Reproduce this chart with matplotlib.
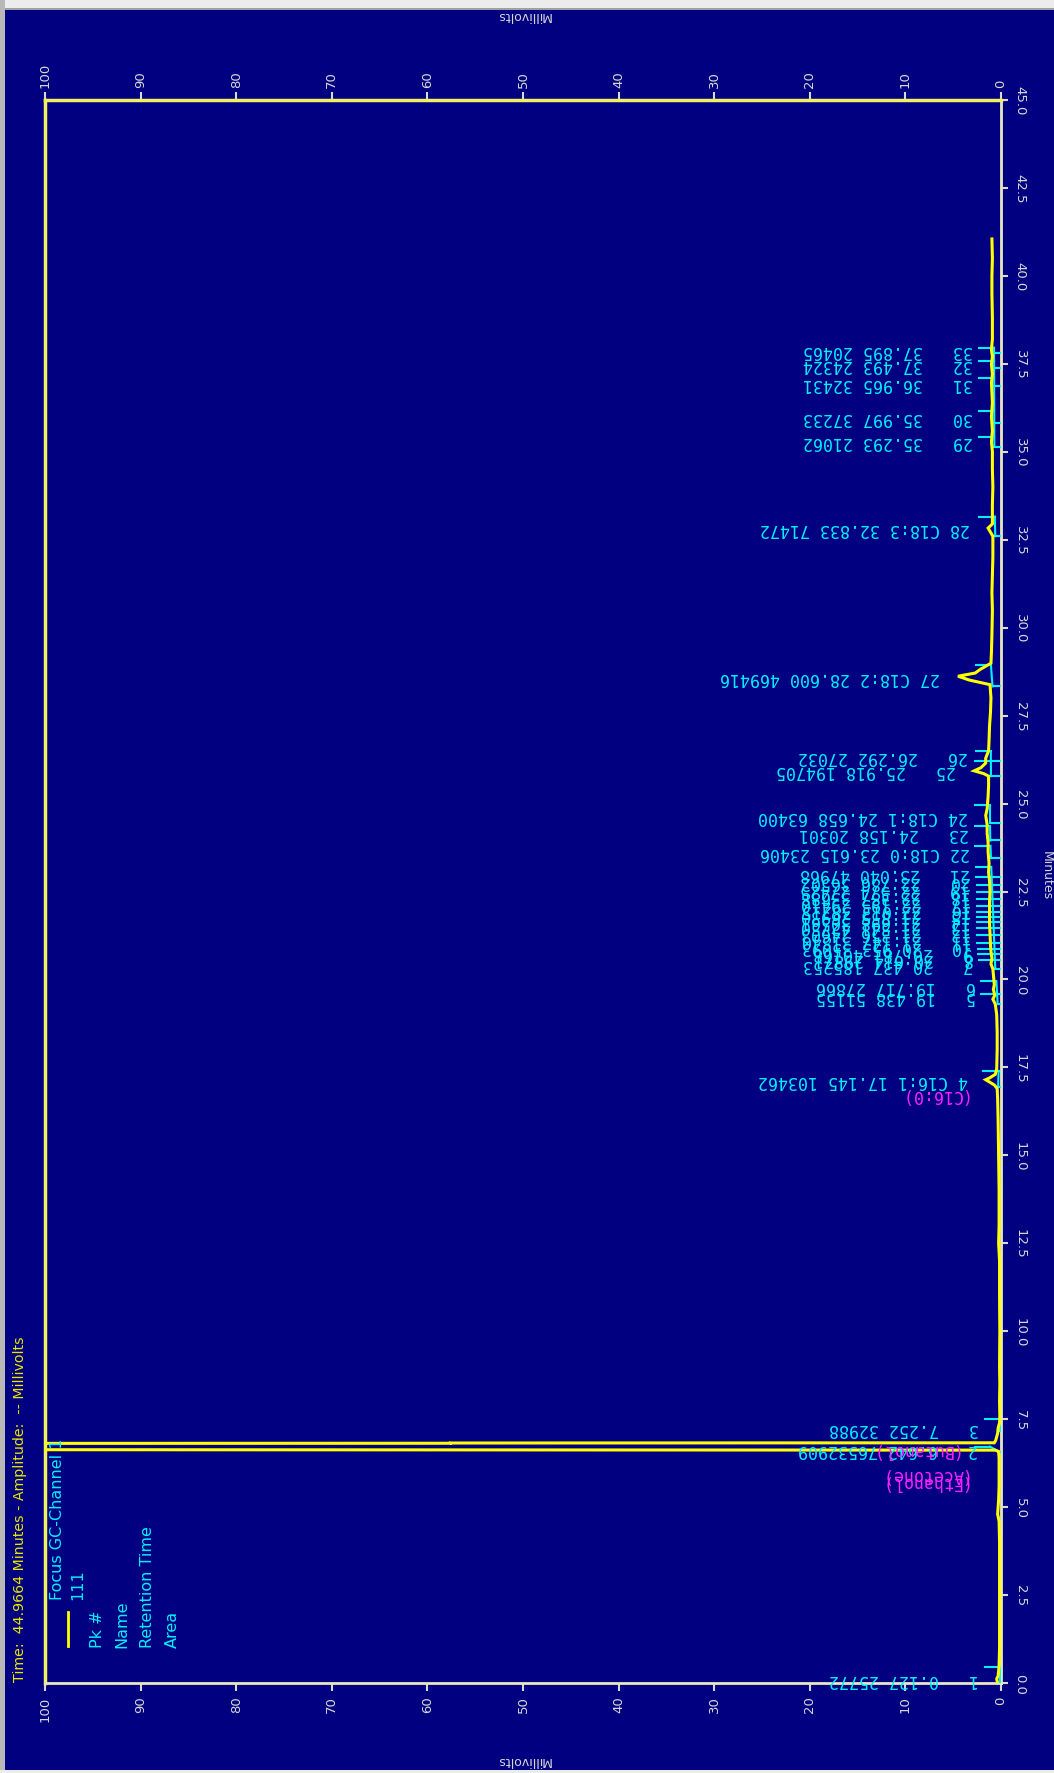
import numpy as np
import matplotlib
matplotlib.use("Agg")
import matplotlib.pyplot as plt
from matplotlib.patches import Rectangle
from matplotlib.transforms import offset_copy

# ---------------------------------------------------------------------------
# Detector trace: retention time (min) and response (mV)
# ---------------------------------------------------------------------------
trace_time = [
    0.00, 0.05, 0.12, 0.20, 0.50, 1.00, 2.00, 3.00, 4.00, 4.60, 4.80, 5.00,
    5.20, 5.60, 6.00, 6.40, 6.58, 6.62, 6.635, 6.81, 6.815, 6.822, 6.828,
    6.90, 7.00, 7.10, 7.25, 7.40, 7.60, 8.00, 8.50, 9.00, 10.00, 11.00,
    12.00, 12.50, 13.00, 14.00, 15.00, 16.00, 16.60, 16.90, 17.00, 17.10,
    17.15, 17.20, 17.30, 17.45, 18.00, 18.50, 19.00, 19.30, 19.44, 19.55,
    19.72, 19.85, 20.00, 20.30, 20.44, 20.60, 20.80, 21.00, 21.30, 21.60,
    21.90, 22.20, 22.50, 22.80, 23.04, 23.30, 23.62, 23.90, 24.16, 24.40,
    24.66, 24.85, 25.20, 25.50, 25.78, 25.85, 25.93, 26.02, 26.15, 26.29,
    26.50, 26.80, 27.20, 27.60, 28.00, 28.38, 28.51, 28.62, 28.71, 28.81,
    28.99, 29.30, 29.80, 30.50, 31.00, 31.50, 32.00, 32.60, 32.83, 32.95,
    33.50, 34.00, 34.50, 35.00, 35.29, 35.60, 36.00, 36.40, 36.97, 37.20,
    37.49, 37.70, 37.90, 38.20, 38.80, 39.50, 40.00, 40.50, 41.05,
]
trace_mv = [
    0.35, 0.40, 0.45, 0.30, 0.20, 0.15, 0.15, 0.15, 0.15, 0.20, 0.35, 0.30,
    0.25, 0.20, 0.20, 0.20, 0.25, 0.60, 130.0, 130.0, 57.6, 57.6, 0.70,
    0.55, 0.45, 0.35, 0.30, 0.15, 0.12, 0.15, 0.12, 0.15, 0.12, 0.15,
    0.15, 0.25, 0.20, 0.20, 0.25, 0.30, 0.35, 0.40, 0.70, 1.30,
    1.60, 1.20, 0.60, 0.45, 0.40, 0.40, 0.45, 0.60, 0.85, 0.65,
    0.80, 0.70, 0.75, 0.85, 1.05, 0.95, 1.05, 1.10, 1.15, 1.20,
    1.20, 1.20, 1.15, 1.20, 1.30, 1.25, 1.35, 1.35, 1.45, 1.45,
    1.60, 1.45, 1.35, 1.30, 1.30, 1.80, 2.80, 2.10, 1.60, 1.60,
    1.30, 1.25, 1.20, 1.10, 1.05, 1.15, 3.30, 4.50, 2.70, 2.20,
    1.05, 1.00, 0.95, 0.90, 0.95, 0.90, 0.85, 0.85, 1.35, 0.90,
    0.90, 0.85, 0.90, 0.90, 1.00, 0.90, 1.00, 0.90, 1.00, 0.90,
    1.00, 0.90, 1.00, 0.90, 0.90, 0.95, 0.95, 0.90, 0.95,
]

# ---------------------------------------------------------------------------
# Peak table
# ---------------------------------------------------------------------------
peak_no = list(range(1, 34))
peak_name = ["", "", "", "C16:1", "", "", "", "", "", "", "", "", "", "", "",
             "", "", "", "", "", "", "C18:0", "", "C18:1", "", "", "C18:2",
             "C18:3", "", "", "", "", ""]
peak_rt = [0.127, 6.642, 7.252, 17.145, 19.438, 19.717, 20.437, 20.614,
           20.781, 20.953, 21.147, 21.356, 21.541, 21.698, 21.855, 22.013,
           22.195, 22.387, 22.574, 22.786, 23.040, 23.615, 24.158, 24.658,
           25.918, 26.292, 28.600, 32.833, 35.293, 35.997, 36.965, 37.493,
           37.895]
peak_area = [25772, 76532909, 32988, 103462, 51155, 27866, 185253, 29871,
             40168, 35093, 31840, 24603, 42750, 30561, 26930, 38215, 29410,
             33688, 27425, 36502, 47968, 23406, 20301, 63400, 194705, 27032,
             469416, 71472, 21062, 37233, 32431, 24324, 20465]
peak_start = [0.00, 6.56, 7.17, 16.95, 19.30, 19.60, 20.30, 20.55, 20.71,
              20.86, 21.05, 21.25, 21.45, 21.62, 21.78, 21.93, 22.10, 22.30,
              22.48, 22.68, 22.90, 23.45, 23.95, 24.45, 25.78, 26.20, 28.33,
              32.60, 35.15, 35.81, 36.86, 37.38, 37.80]
peak_end = [0.45, 6.72, 7.50, 17.40, 19.60, 19.95, 20.55, 20.71, 20.86,
            21.05, 21.25, 21.45, 21.62, 21.78, 21.93, 22.10, 22.30, 22.48,
            22.68, 22.90, 23.20, 23.80, 24.35, 24.95, 26.20, 26.49, 28.95,
            33.16, 35.43, 36.15, 37.09, 37.57, 37.96]
peak_top = [0.45, 0.50, 0.35, 1.60, 0.75, 0.70, 1.05, 0.95, 1.05, 1.10,
            1.15, 1.20, 1.20, 1.20, 1.20, 1.15, 1.20, 1.25, 1.30, 1.25,
            1.30, 1.35, 1.45, 1.60, 2.80, 1.60, 4.50, 1.35, 1.00, 1.00,
            1.00, 1.00, 1.00]

# Expected components that were not found (drawn in magenta)
missing_names = ["(Acetone)", "(Ethanol)", "(C16:0)"]
missing_rt = [5.95, 5.75, 16.75]
peak2_name = "(Butanol)"

# Integration baseline segments (min)
baseline_segments = [(0.00, 0.45), (6.56, 6.72), (7.17, 7.50), (16.95, 17.40),
                     (19.30, 19.95), (20.30, 23.20), (23.45, 23.80),
                     (23.95, 24.35), (24.45, 24.95), (25.78, 26.49),
                     (28.33, 28.95), (32.60, 33.16), (35.15, 37.96)]

time_ticks = np.arange(0, 45.01, 2.5)
mv_ticks = np.arange(0, 101, 10)

# ---------------------------------------------------------------------------
NAVY = "#000080"
YELLOW = "#ffff00"
CYAN = "#00f0ff"
MAGENTA = "#ff20ff"
TICKC = "#d8d8d8"
W, H = 1054, 1774

fig = plt.figure(figsize=(W / 100, H / 100), dpi=100, facecolor=NAVY)


def fx(x):
    return x / W


def fy(y):
    return 1 - y / H


# window frame
fig.patches.append(Rectangle((0, fy(9)), 1, 9 / H, transform=fig.transFigure,
                             facecolor="#ececec", edgecolor="none", zorder=0))
fig.patches.append(Rectangle((0, fy(11)), 1, 2 / H, transform=fig.transFigure,
                             facecolor="#a0a0a0", edgecolor="none", zorder=0))
fig.patches.append(Rectangle((0, 0), 5 / W, 1, transform=fig.transFigure,
                             facecolor="#b8b8b8", edgecolor="none", zorder=0))
fig.patches.append(Rectangle((0, 0), 1, 3 / H, transform=fig.transFigure,
                             facecolor="#ececec", edgecolor="none", zorder=0))

left, right, top, bottom = 45, 1001, 101, 1684
ax = fig.add_axes([fx(left), fy(bottom), fx(right) - fx(left),
                   (bottom - top) / H])
ax.set_facecolor(NAVY)
ax.set_xlim(100, 0)
ax.set_ylim(0, 45)

# trace
ax.plot(trace_mv, trace_time, color=YELLOW, lw=2.2, zorder=5,
        solid_joinstyle="miter")

# integration baselines and peak boundary marks
t_arr = np.array(trace_time)
m_arr = np.array(trace_mv)


def base_at(t):
    v = np.interp(t, t_arr, m_arr)
    return max(min(v, 1.4) - 0.25, 0.1)


for s, e in baseline_segments:
    ax.plot([base_at(s), base_at(e)], [s, e], color=CYAN, lw=1.5, zorder=4)
for s, e in zip(peak_start, peak_end):
    bs, be = base_at(s), base_at(e)
    ax.plot([bs, 0], [s, s], color=CYAN, lw=1.5, zorder=4)
    ax.plot([be, be + 1.6], [e, e], color=CYAN, lw=1.5, zorder=4)

# peak labels (upside-down, monospace columns)
LBL_FS = 12
CHAR_PT = 0.602 * LBL_FS
label_nudge = {5: 0.09, 6: 0.10, 25: 0.05, 26: 0.05}
for n, name, rt, area, ht in zip(peak_no, peak_name, peak_rt, peak_area,
                                 peak_top):
    if name:
        txt = f"{n} {name} {rt:.3f} {area}"
    else:
        txt = f"{n}   {rt:.3f} {area}"
    xpos = ht + 1.9
    ypos = rt + label_nudge.get(n, 0.0)
    ax.text(xpos, ypos, txt, color=CYAN, fontsize=LBL_FS,
            family="DejaVu Sans Mono", rotation=180, rotation_mode="anchor",
            ha="left", va="center", zorder=6)
    if n == 2:
        tr = offset_copy(ax.transData, fig=fig, x=-2 * CHAR_PT, y=0,
                         units="points")
        ax.text(xpos, ypos, peak2_name, color=MAGENTA, fontsize=LBL_FS,
                family="DejaVu Sans Mono", rotation=180,
                rotation_mode="anchor", ha="left", va="center", zorder=7,
                transform=tr)

for name, rt in zip(missing_names, missing_rt):
    ax.text(3.6, rt, name, color=MAGENTA, fontsize=LBL_FS,
            family="DejaVu Sans Mono", rotation=180, rotation_mode="anchor",
            ha="left", va="center", zorder=6)

# axes frame and ticks
for side in ["left", "top"]:
    ax.spines[side].set_color("#f0f060")
    ax.spines[side].set_linewidth(2.5)
for side in ["right", "bottom"]:
    ax.spines[side].set_color("#e8e8c0")
    ax.spines[side].set_linewidth(2.0)

ax.set_xticks(mv_ticks)
ax.set_xticklabels([f"{v:d}" for v in mv_ticks])
ax.set_yticks(time_ticks)
ax.set_yticklabels([f"{v:.1f}" for v in time_ticks])
ax.tick_params(axis="x", which="both", top=True, bottom=True, labeltop=True,
               labelbottom=True, direction="out", length=6, width=1.5,
               color=TICKC, labelcolor=TICKC, labelsize=9.5, labelrotation=90,
               pad=3)
ax.tick_params(axis="y", which="both", left=False, right=True,
               labelleft=False, labelright=True, direction="out", length=5,
               width=1.5, color=TICKC, labelcolor=TICKC, labelsize=9.5,
               labelrotation=-90, pad=4)
for lab in ax.get_yticklabels():
    lab.set_va("center")

# axis titles
fig.text(fx(523), fy(16), "Millivolts", color=TICKC, fontsize=9,
         rotation=180, ha="center", va="center")
fig.text(fx(523), fy(1761), "Millivolts", color=TICKC, fontsize=9,
         rotation=180, ha="center", va="center")
fig.text(fx(1046), fy(876), "Minutes", color=TICKC, fontsize=9,
         rotation=-90, ha="center", va="center")

# status line
fig.text(fx(20), fy(1682),
         "Time:  44.9664 Minutes - Amplitude:  -- Millivolts",
         color="#e8e800", fontsize=10.2, rotation=90, rotation_mode="anchor",
         ha="left", va="center")

# legend
leg_fs = 11.5
fig.text(fx(57), fy(1600), "Focus GC-Channel 1", color=CYAN, fontsize=leg_fs,
         rotation=90, rotation_mode="anchor", ha="left", va="center")
fig.text(fx(78), fy(1600), "111", color=CYAN, fontsize=leg_fs,
         rotation=90, rotation_mode="anchor", ha="left", va="center")
fig.add_artist(plt.Line2D([fx(68), fx(68)], [fy(1647), fy(1613)],
                          color=YELLOW, lw=2, transform=fig.transFigure))
for x, s in zip([97, 122, 147, 172], ["Pk #", "Name", "Retention Time", "Area"]):
    fig.text(fx(x), fy(1648), s, color=CYAN, fontsize=leg_fs,
             rotation=90, rotation_mode="anchor", ha="left", va="center")

fig.savefig("out.png", dpi=100, facecolor=NAVY)
